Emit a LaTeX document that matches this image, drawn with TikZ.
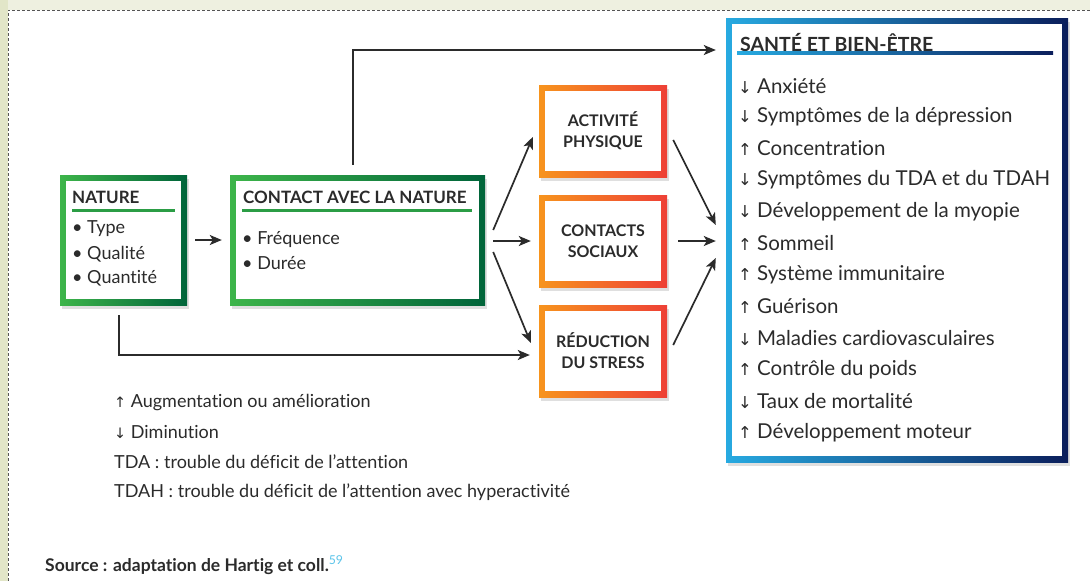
\documentclass[tikz,border=0pt]{standalone}
\usepackage{fontspec}
\setmainfont{Lato}[Ligatures=NoCommon]
\newfontfamily\flechefont{DejaVu Sans}
\usetikzlibrary{shadows,arrows.meta}
\definecolor{natclair}{HTML}{3DB54A}
\definecolor{natfonce}{HTML}{00643A}
\definecolor{medorange}{HTML}{F7941D}
\definecolor{medrouge}{HTML}{EE4036}
\definecolor{santeclair}{HTML}{27AAE1}
\definecolor{santefonce}{HTML}{0B1E5B}
\definecolor{encre}{HTML}{2B2B2B}
\definecolor{fondpage}{HTML}{EEF0E0}
\definecolor{bande}{HTML}{E2E6C8}
\definecolor{renvoi}{HTML}{5BC4EA}
\newcommand{\hausse}{{\flechefont\scalebox{.8}{\char"2191}}}
\newcommand{\baisse}{{\flechefont\scalebox{.8}{\char"2193}}}
\begin{document}
\begin{tikzpicture}[x=1pt,y=-1pt,>={Stealth[length=12pt,width=10pt,inset=3pt]},
    every node/.style={text=encre},
    cadre/.style 2 args={left color=#1,right color=#2,inner sep=0pt,
      drop shadow={opacity=.25,shadow xshift=2pt,shadow yshift=-4pt},
      path picture={\fill[white] ([shift={(6pt,6pt)}]path picture bounding box.south west) rectangle ([shift={(-6pt,-6pt)}]path picture bounding box.north east);}},
    titre/.style={anchor=west,inner sep=0pt,font=\bfseries\fontsize{17}{19}\selectfont},
    puce/.style={anchor=west,inner sep=0pt,font=\fontsize{18}{21}\selectfont},
    effet/.style={anchor=west,inner sep=0pt,font=\fontsize{20.5}{23}\selectfont},
    legende/.style={anchor=west,inner sep=0pt,font=\fontsize{18}{21}\selectfont},
    mediateur/.style={cadre={medorange}{medrouge},minimum width=128pt,minimum height=92pt,align=center,
      font=\bfseries\fontsize{16}{21}\selectfont},
    fleche/.style={->,draw=encre,line width=1.7pt}]
  \useasboundingbox (0,0) rectangle (1090,581);
  % fond
  \fill[fondpage] (0,0) rectangle (1090,581);
  \fill[bande] (0,0) rectangle (8,581);
  \fill[white] (8,10) rectangle (1090,581);
  \draw[encre!80,densely dashed,line width=.8pt] (8,581) -- (8,10) -- (1090,10);

  % cadres
  \node[cadre={natclair}{natfonce},minimum width=127pt,minimum height=130pt] (nature) at (123.5,240) {};
  \node[cadre={natclair}{natfonce},minimum width=255pt,minimum height=130pt] (contact) at (357.5,240) {};
  \node[mediateur] (activite) at (603,131) {ACTIVITÉ\\PHYSIQUE};
  \node[mediateur] (sociaux) at (603,241) {CONTACTS\\SOCIAUX};
  \node[mediateur] (stress) at (603,351) {RÉDUCTION\\DU STRESS};
  \node[cadre={santeclair}{santefonce},minimum width=342pt,minimum height=444pt] (sante) at (897,240) {};

  % textes des cadres
  \node[titre] (naturetitre) at (72,197) {NATURE};
  \draw[natclair!70!natfonce,line width=3pt] (72,210) -- (175,210);
  \node[puce] (type) at (72,229) {\textbullet\ Type};
  \node[puce] (qualite) at (72,254) {\textbullet\ Qualité};
  \node[puce] (quantite) at (72,278) {\textbullet\ Quantité};

  \node[titre] (contacttitre) at (243,197) {CONTACT AVEC LA NATURE};
  \draw[natclair!70!natfonce,line width=3pt] (242,210) -- (472,210);
  \node[puce] (frequence) at (242,240) {\textbullet\ Fréquence};
  \node[puce] (duree) at (242,263) {\textbullet\ Durée};

  \node[titre,font=\bfseries\fontsize{19.5}{21}\selectfont] (santetitre) at (740,43) {SANTÉ ET BIEN-ÊTRE};
  \shade[left color=santeclair,right color=santefonce] (737,51.5) rectangle (1053,54.5);
  \node[effet] (anxiete) at (738,86) {\baisse\ Anxiété};
  \node[effet] (depression) at (738,117) {\baisse\ Symptômes de la dépression};
  \node[effet] (concentration) at (738,148) {\hausse\ Concentration};
  \node[effet] (tdah) at (738,180) {\baisse\ Symptômes du TDA et du TDAH};
  \node[effet] (myopie) at (738,212) {\baisse\ Développement de la myopie};
  \node[effet] (sommeil) at (738,243) {\hausse\ Sommeil};
  \node[effet] (immunite) at (738,275) {\hausse\ Système immunitaire};
  \node[effet] (guerison) at (738,306) {\hausse\ Guérison};
  \node[effet] (cardio) at (738,338) {\baisse\ Maladies cardiovasculaires};
  \node[effet] (poids) at (738,370) {\hausse\ Contrôle du poids};
  \node[effet] (mortalite) at (738,401) {\baisse\ Taux de mortalité};
  \node[effet] (moteur) at (738,433) {\hausse\ Développement moteur};

  % fleches
  \coordinate (haut) at (353,50);
  \coordinate (bas) at (119,355);
  \draw[fleche,shorten <=8pt,shorten >=8pt] (nature) -- (contact);
  \draw[fleche,shorten <=10pt,shorten >=10pt] (contact.north -| haut) |- (sante.west |- haut);
  \draw[fleche,shorten <=10pt,shorten >=9pt] (nature.south -| bas) |- (stress.west |- bas);
  \draw[fleche] ([shift={(8pt,10pt)}]contact.east) -- ([shift={(-6pt,-6pt)}]activite.west);
  \draw[fleche,shorten <=8pt,shorten >=8pt] (contact.east |- sociaux) -- (sociaux.west);
  \draw[fleche] ([shift={(8pt,-12pt)}]contact.east) -- ([shift={(-8pt,8pt)}]stress.west);
  \draw[fleche] ([shift={(6pt,-9pt)}]activite.east) -- ([shift={(-10pt,15pt)}]sante.west);
  \draw[fleche,shorten <=11pt,shorten >=10pt] (sociaux.east) -- (sociaux.east -| sante.west);
  \draw[fleche] ([shift={(6pt,6pt)}]stress.east) -- ([shift={(-10pt,-18pt)}]sante.west);

  % legende
  \node[legende] (augmentation) at (114,403) {\hausse\ Augmentation ou amélioration};
  \node[legende] (diminution) at (114,432) {\baisse\ Diminution};
  \node[legende] (tda) at (114,462) {TDA : trouble du déficit de l’attention};
  \node[legende] (tdahdef) at (114,492) {TDAH : trouble du déficit de l’attention avec hyperactivité};
  \node[legende,font=\bfseries\fontsize{17.5}{20}\selectfont] (source) at (45,565) {Source : adaptation de Hartig et coll.\textsuperscript{\color{renvoi}\mdseries 59}};
\end{tikzpicture}
\end{document}
